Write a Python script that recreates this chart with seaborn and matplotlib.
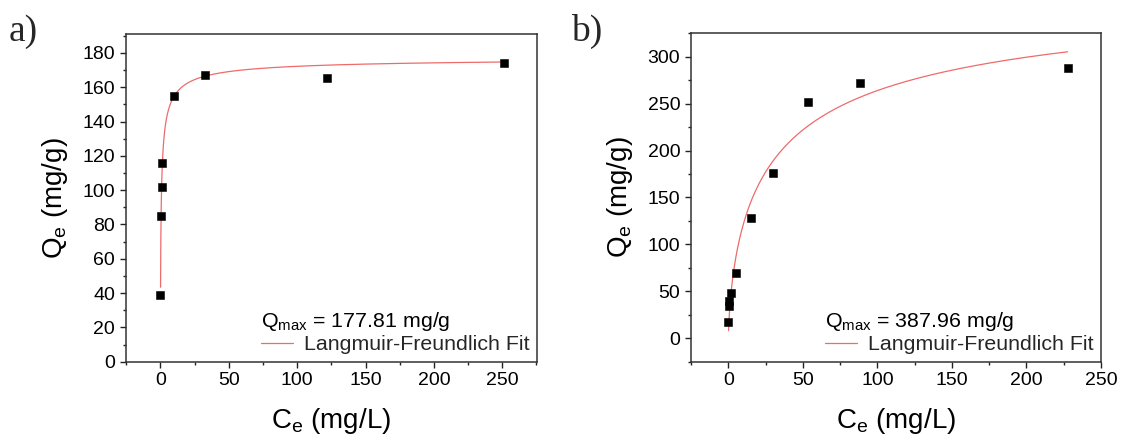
import numpy as np
import pandas as pd
import matplotlib
matplotlib.use("Agg")
import matplotlib.pyplot as plt
from matplotlib.ticker import MultipleLocator
import seaborn as sns

# ---- adsorption isotherm data ----
ce_a = [0.05, 0.3, 0.8, 1.3, 10.2, 32.7, 122.0, 251.3]
qe_a = [38.6, 85.0, 102.0, 116.0, 154.8, 167.2, 165.6, 174.2]

ce_b = [0.0, 0.1, 0.2, 1.7, 4.8, 15.1, 29.8, 53.5, 88.4, 227.6]
qe_b = [17.5, 34.0, 39.7, 47.9, 69.4, 127.6, 175.9, 251.7, 272.4, 287.8]

# Langmuir-Freundlich fit parameters: Q = Qmax (K C)^n / (1 + (K C)^n)
qmax_a, k_a, n_a = 177.81, 1.8, 0.659
qmax_b, k_b, n_b = 387.96, 0.0309, 0.67
fit_range_a = (0.1, 251.3)
fit_range_b = (0.1, 227.6)


def langmuir_freundlich(c, qmax, k, n):
    t = (k * c) ** n
    return qmax * t / (1 + t)


sns.set_theme(style="ticks")
plt.rcParams["font.family"] = ["Liberation Sans", "DejaVu Sans"]
plt.rcParams["mathtext.fontset"] = "custom"
plt.rcParams["mathtext.rm"] = "Liberation Sans"
plt.rcParams["mathtext.it"] = "Liberation Sans"

fig = plt.figure(figsize=(11.22, 4.34), dpi=100)
ax_a = fig.add_axes([0.1119, 0.1666, 0.3668, 0.7550])
ax_b = fig.add_axes([0.6156, 0.1670, 0.3657, 0.7562])

fit_color = "#ee6b6b"


def draw_panel(ax, ce, qe, qmax, k, n, frange, xlim, ylim, ymaj, ymin):
    c_fit = np.logspace(np.log10(frange[0]), np.log10(frange[1]), 600)
    fit_df = pd.DataFrame({"Ce": c_fit, "Qe": langmuir_freundlich(c_fit, qmax, k, n)})
    pts = pd.DataFrame({"Ce": ce, "Qe": qe})

    sns.lineplot(data=fit_df, x="Ce", y="Qe", ax=ax, color=fit_color, lw=0.9,
                 sort=False, estimator=None, label="Langmuir-Freundlich Fit", zorder=2)
    sns.scatterplot(data=pts, x="Ce", y="Qe", ax=ax, marker="s", s=26, color="black",
                    edgecolor="black", linewidth=0.4, zorder=3, legend=False)

    ax.set_xlim(*xlim)
    ax.set_ylim(*ylim)
    ax.xaxis.set_major_locator(MultipleLocator(50))
    ax.xaxis.set_minor_locator(MultipleLocator(25))
    ax.yaxis.set_major_locator(MultipleLocator(ymaj))
    ax.yaxis.set_minor_locator(MultipleLocator(ymin))
    ax.tick_params(which="both", direction="out", top=False, right=False,
                   color="#222222", width=1.0)
    ax.tick_params(which="major", length=4.5, labelsize=14, pad=3, labelcolor="black")
    ax.tick_params(which="minor", length=2.5)
    for sp in ax.spines.values():
        sp.set_visible(True)
        sp.set_color("#333333")
        sp.set_linewidth(1.1)

    ax.set_xlabel("C$_\\mathregular{e}$ (mg/L)", fontsize=20, labelpad=12, color="black")
    ax.set_ylabel("Q$_\\mathregular{e}$ (mg/g)", fontsize=20, labelpad=9, color="black")

    leg = ax.legend(title="Q$_\\mathregular{max}$ = %.2f mg/g" % qmax, loc="lower right",
                    frameon=False, fontsize=15.4, title_fontsize=15.4, alignment="left",
                    handlelength=1.5, handletextpad=0.5, borderaxespad=0.15,
                    borderpad=0.2, labelspacing=0.1)
    leg.get_title().set_color("black")


draw_panel(ax_a, ce_a, qe_a, qmax_a, k_a, n_a, fit_range_a,
           (-25.5, 275.5), (0, 191), 20, 10)
draw_panel(ax_b, ce_b, qe_b, qmax_b, k_b, n_b, fit_range_b,
           (-25.3, 250), (-25, 325), 50, 25)

panel_font = ["Liberation Serif", "DejaVu Serif"]
fig.text(0.008, 0.968, "a)", fontsize=27, family=panel_font, va="top", ha="left")
fig.text(0.509, 0.968, "b)", fontsize=27, family=panel_font, va="top", ha="left")

fig.savefig("out.png", dpi=100)
